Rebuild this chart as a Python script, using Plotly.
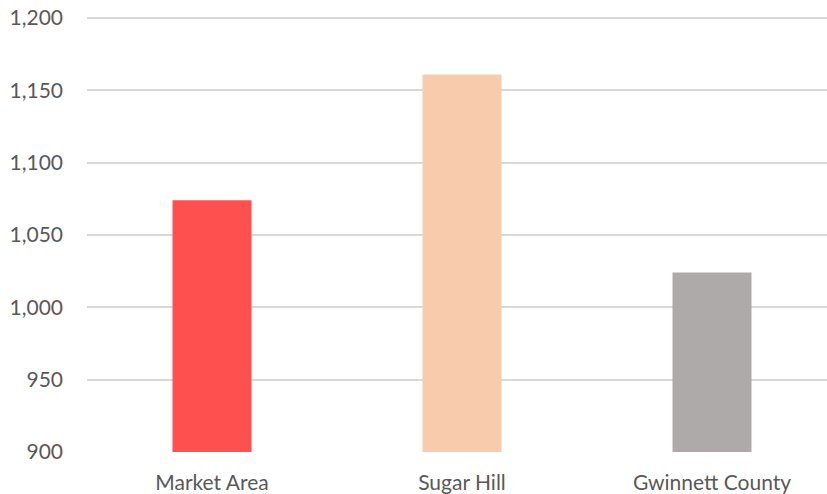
import plotly.graph_objects as go

categories = ["Market Area", "Sugar Hill", "Gwinnett County"]
values = [1074, 1161, 1024]
colors = ["#FF5050", "#F8CBAD", "#AEAAAA"]
y_ticks = [900, 950, 1000, 1050, 1100, 1150, 1200]

fig = go.Figure(go.Bar(
    x=[0, 1, 2], y=values, marker_color=colors, width=0.316,
    marker_line_width=0,
))

fig.update_layout(
    width=827, height=494,
    margin=dict(l=87, r=0, t=17, b=42),
    plot_bgcolor="white", paper_bgcolor="white",
    font=dict(family="Lato", size=21, color="#595959"),
    showlegend=False,
    xaxis=dict(
        tickmode="array", tickvals=[0, 1, 2], ticktext=categories,
        range=[-0.5, 2.46], showgrid=False, zeroline=False,
        showline=False, ticks="", ticklabelstandoff=16,
    ),
    yaxis=dict(
        range=[900, 1200.7], tickvals=y_ticks,
        ticktext=[f"{v:,}" for v in y_ticks],
        showgrid=True, gridcolor="#D9D9D9", gridwidth=1.5,
        zeroline=False, showline=False, ticks="", ticklabelstandoff=23,
    ),
)

fig.write_html("out.html")
